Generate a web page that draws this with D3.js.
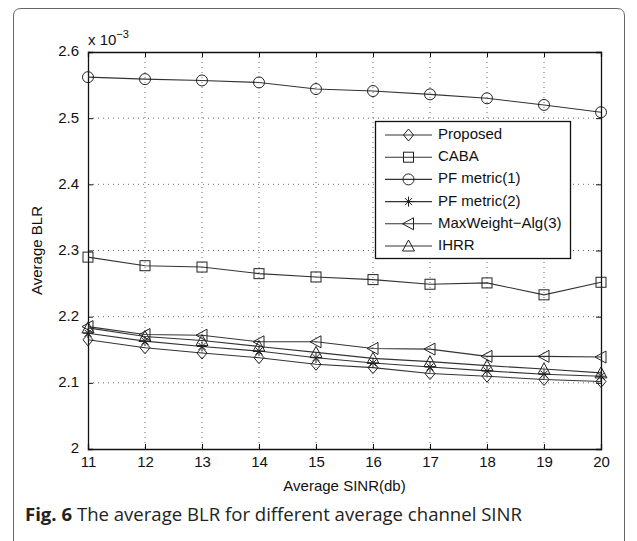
<!DOCTYPE html>
<html><head><meta charset="utf-8">
<script src="https://cdn.jsdelivr.net/npm/d3@7"></script>
<style>body{margin:0;background:#fff}svg{display:block}</style>
</head><body>
<svg id="c" width="637" height="541"></svg>
<script>
const xValues = [11,12,13,14,15,16,17,18,19,20];
const proposed  = [2.165,2.153,2.145,2.138,2.128,2.123,2.114,2.110,2.105,2.102];
const caba      = [2.290,2.277,2.275,2.265,2.260,2.256,2.249,2.251,2.233,2.252];
const pf1       = [2.562,2.559,2.557,2.554,2.544,2.541,2.536,2.530,2.520,2.509];
const pf2       = [2.175,2.163,2.155,2.148,2.138,2.130,2.124,2.118,2.113,2.110];
const maxWeight = [2.185,2.173,2.172,2.162,2.162,2.152,2.151,2.140,2.140,2.139];
const ihrr      = [2.183,2.170,2.164,2.155,2.146,2.137,2.132,2.126,2.121,2.115];
const seriesNames = ["Proposed","CABA","PF metric(1)","PF metric(2)","MaxWeight\u2212Alg(3)","IHRR"];
const seriesMarkers = ["diamond","square","circle","star","ltriangle","triangle"];
const xTicks = [11,12,13,14,15,16,17,18,19,20];
const yTicks = [2,2.1,2.2,2.3,2.4,2.5,2.6];

const series = [proposed,caba,pf1,pf2,maxWeight,ihrr];
const svg = d3.select("#c");
const L=88,R=601,T=52,B=449;
const x = d3.scaleLinear().domain([11,20]).range([L,R]);
const y = d3.scaleLinear().domain([2,2.6]).range([B,T]);
const font = "'Liberation Sans', Arial, Helvetica, sans-serif";

// outer frame
svg.append("path").attr("d","M13.5,541 L13.5,16 Q13.5,8.5 21,8.5 L617,8.5 Q624.5,8.5 624.5,16 L624.5,541")
  .attr("fill","none").attr("stroke","#666").attr("stroke-width",1);

// grid
const g = svg.append("g");
g.selectAll(".vx").data(xTicks.slice(1,-1)).join("line")
  .attr("x1",d=>x(d)).attr("x2",d=>x(d)).attr("y1",T).attr("y2",B)
  .attr("stroke","#444").attr("stroke-width",0.8).attr("stroke-dasharray","1,4");
g.selectAll(".hy").data(yTicks.slice(1,-1)).join("line")
  .attr("y1",d=>y(d)).attr("y2",d=>y(d)).attr("x1",L).attr("x2",R)
  .attr("stroke","#444").attr("stroke-width",0.8).attr("stroke-dasharray","1,4");

// axes (matlab style inward ticks)
const ax = svg.append("g").attr("transform",`translate(0,${B})`)
  .call(d3.axisBottom(x).tickValues(xTicks).tickSize(-5).tickPadding(10).tickFormat(d3.format("d")));
const axT = svg.append("g").attr("transform",`translate(0,${T})`)
  .call(d3.axisTop(x).tickValues(xTicks).tickSize(-5).tickFormat(""));
const ay = svg.append("g").attr("transform",`translate(${L},0)`)
  .call(d3.axisLeft(y).tickValues(yTicks).tickSize(-5).tickPadding(9).tickFormat(d=>d3.format("")(+d.toFixed(1))));
const ayR = svg.append("g").attr("transform",`translate(${R},0)`)
  .call(d3.axisRight(y).tickValues(yTicks).tickSize(-5).tickFormat(""));
[ax,axT,ay,ayR].forEach(a=>{
  a.selectAll("path").attr("stroke","#111").attr("stroke-width",1.3);
  a.selectAll("line").attr("stroke","#111");
  a.selectAll("text").attr("font-family",font).attr("font-size",15).attr("fill","#111");
});
ay.selectAll("text").attr("dy",null).attr("dominant-baseline","middle");
ax.selectAll("text").attr("dy","0.5em");

// exponent
const ex = svg.append("text").attr("x",88).attr("y",45).attr("font-family",font).attr("font-size",15).attr("fill","#111");
ex.append("tspan").text("x 10");
ex.append("tspan").attr("dy",-7).attr("font-size",11).text("\u22123");

// axis labels
svg.append("text").attr("x",(L+R)/2).attr("y",491).attr("text-anchor","middle")
  .attr("font-family",font).attr("font-size",15).attr("fill","#111").text("Average SINR(db)");
svg.append("text").attr("transform",`translate(42,${(T+B)/2}) rotate(-90)`).attr("text-anchor","middle")
  .attr("font-family",font).attr("font-size",15).attr("fill","#111").text("Average BLR");

// marker drawing
function marker(sel,type,cx,cy){
  const s=5;
  let el;
  switch(type){
    case "diamond": el=sel.append("path").attr("d",`M${cx},${cy-s-1}L${cx+s},${cy}L${cx},${cy+s+1}L${cx-s},${cy}Z`);break;
    case "square": el=sel.append("rect").attr("x",cx-5).attr("y",cy-5).attr("width",10).attr("height",10);break;
    case "circle": el=sel.append("circle").attr("cx",cx).attr("cy",cy).attr("r",5.5);break;
    case "star": el=sel.append("path").attr("d",`M${cx-5},${cy}L${cx+5},${cy}M${cx},${cy-5}L${cx},${cy+5}M${cx-3.5},${cy-3.5}L${cx+3.5},${cy+3.5}M${cx-3.5},${cy+3.5}L${cx+3.5},${cy-3.5}`);break;
    case "ltriangle": el=sel.append("path").attr("d",`M${cx-6},${cy}L${cx+5},${cy-6}L${cx+5},${cy+6}Z`);break;
    case "triangle": el=sel.append("path").attr("d",`M${cx},${cy-6}L${cx+6},${cy+5}L${cx-6},${cy+5}Z`);break;
  }
  el.attr("fill","none").attr("stroke","#222").attr("stroke-width",1);
}

const line = d3.line().x((d,i)=>x(xValues[i])).y(d=>y(d));
series.forEach((s,k)=>{
  const sg = svg.append("g");
  sg.append("path").datum(s).attr("d",line).attr("fill","none").attr("stroke","#333").attr("stroke-width",1.1);
  s.forEach((v,i)=>marker(sg,seriesMarkers[k],x(xValues[i]),y(v)));
});

// legend
const lg = svg.append("g");
lg.append("rect").attr("x",375.5).attr("y",121.5).attr("width",195).attr("height",137)
  .attr("fill","#fff").attr("stroke","#111").attr("stroke-width",1.3);
seriesNames.forEach((n,k)=>{
  const yy = 135 + k*22.2;
  lg.append("line").attr("x1",385).attr("x2",432).attr("y1",yy).attr("y2",yy).attr("stroke","#333").attr("stroke-width",1.1);
  marker(lg,seriesMarkers[k],408.5,yy);
  lg.append("text").attr("x",438).attr("y",yy).attr("dominant-baseline","middle")
    .attr("font-family",font).attr("font-size",15).attr("fill","#111").text(n);
});

// caption
const cap = svg.append("text").attr("x",25).attr("y",521).attr("font-family","'Open Sans', 'Noto Sans', sans-serif")
  .attr("font-size",18.5).attr("fill","#222").attr("textLength",497).attr("lengthAdjust","spacingAndGlyphs");
cap.append("tspan").attr("font-weight","bold").text("Fig. 6");
cap.append("tspan").text(" The average BLR for different average channel SINR");
</script>
</body></html>
